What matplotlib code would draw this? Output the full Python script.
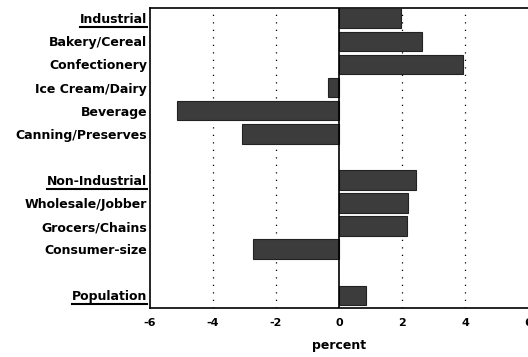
import numpy as np
import matplotlib
matplotlib.use('Agg')
import matplotlib.pyplot as plt
from matplotlib.lines import Line2D

# Change in sales, percent
labels = ['Industrial', 'Bakery/Cereal', 'Confectionery', 'Ice Cream/Dairy',
          'Beverage', 'Canning/Preserves',
          'Non-Industrial', 'Wholesale/Jobber', 'Grocers/Chains', 'Consumer-size',
          'Population']
values = [1.98, 2.65, 3.95, -0.35, -5.15, -3.07,
          2.43, 2.18, 2.15, -2.72,
          0.87]
rows = [0, 1, 2, 3, 4, 5, 7, 8, 9, 10, 12]
underlined = ['Industrial', 'Non-Industrial', 'Population']
xticks = [-6, -4, -2, 0, 2, 4, 6]

plt.rcParams['font.family'] = ['DejaVu Sans']

fig = plt.figure(figsize=(5.28, 3.57), dpi=100)
ax = fig.add_axes([0.284, 0.137, 0.716, 0.841])

ax.barh(rows, values, height=0.85, color='#3c3c3c', edgecolor='#222222', linewidth=0.8, zorder=3)

for x in [-4, -2, 2, 4]:
    ax.axvline(x, color='black', linestyle=(0, (1, 5)), linewidth=0.9, zorder=1)
ax.axvline(0, color='black', linewidth=1.2, zorder=4)

ax.set_xlim(-6, 6)
ax.set_ylim(12.55, -0.45)
ax.set_yticks(rows)
ax.set_yticklabels(labels, fontsize=9, fontweight='bold')
ax.set_xticks(xticks)
ax.set_xticklabels([str(t) for t in xticks], fontsize=8, fontweight='bold')
ax.tick_params(axis='y', length=0, pad=2)
ax.tick_params(axis='x', length=0, pad=7)
ax.set_xlabel('percent', fontsize=9, fontweight='bold', labelpad=8)

ax.spines['right'].set_visible(False)
for s in ['left', 'top', 'bottom']:
    ax.spines[s].set_linewidth(1.2)

# underline the group headings
fig.canvas.draw()
renderer = fig.canvas.get_renderer()
inv = fig.transFigure.inverted()
for lab in ax.get_yticklabels():
    if lab.get_text() in underlined:
        bb = lab.get_window_extent(renderer)
        (x0, y0), (x1, y1) = inv.transform([(bb.x0, bb.y0), (bb.x1, bb.y1)])
        fig.add_artist(Line2D([x0, x1], [y0 - 0.002, y0 - 0.002],
                              transform=fig.transFigure, color='black', linewidth=1.5))

fig.savefig('out.png', dpi=100)
